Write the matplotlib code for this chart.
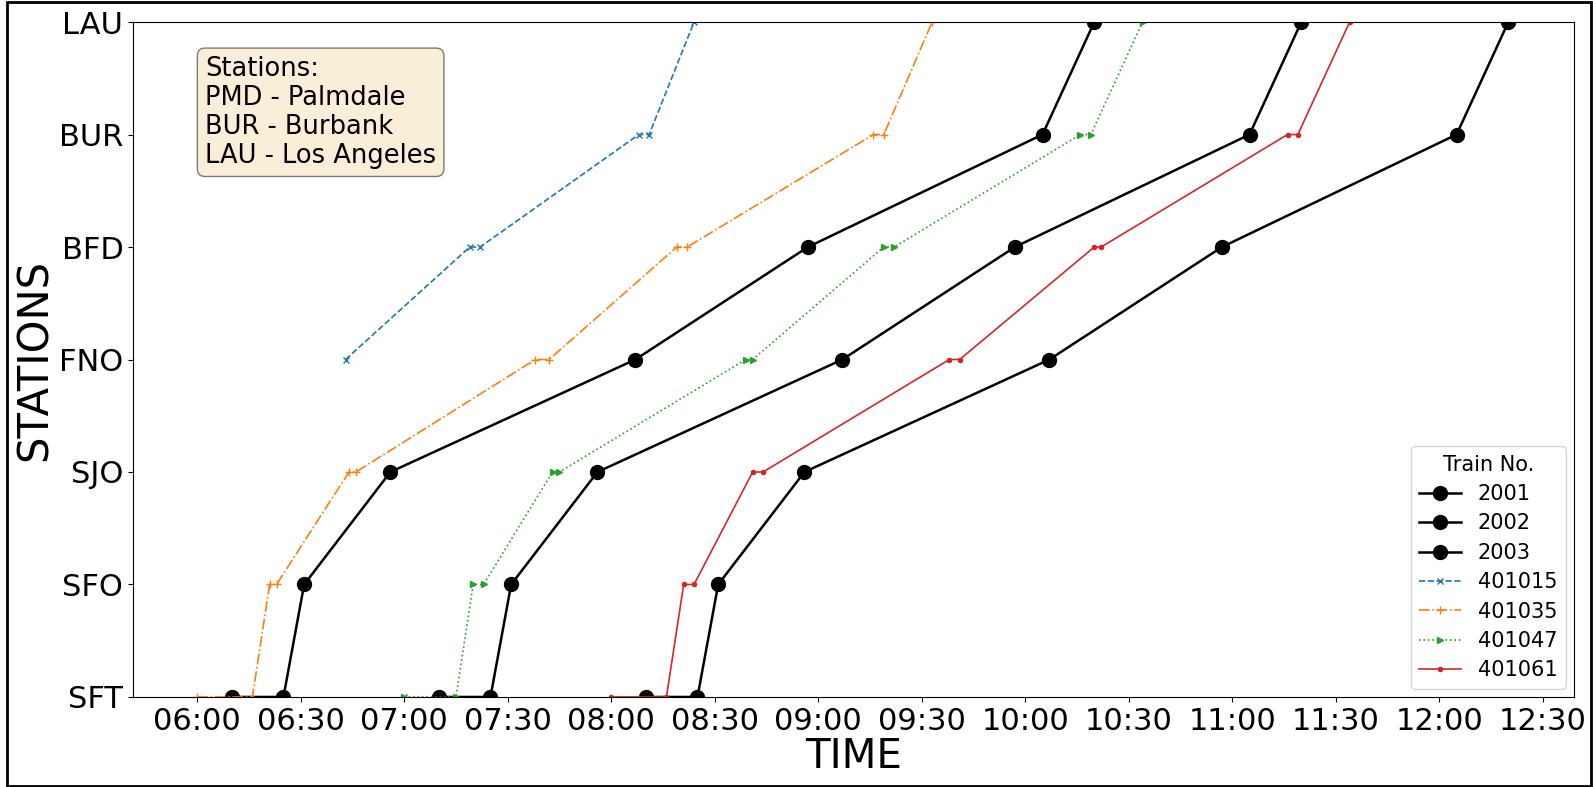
import numpy as np
import matplotlib
matplotlib.use('Agg')
import matplotlib.pyplot as plt
import matplotlib.ticker as ticker
from matplotlib.patches import Rectangle

# ----------------------------------------------------------------------
# Data: stop sequence + times (HH:MM) per train, None = no data
# ----------------------------------------------------------------------
stations = ['SFT', 'SFO', 'SJO', 'FNO', 'BFD', 'BUR', 'LAU']

stops_2001 = ['SFT', 'SFT', 'SFO', 'SJO', 'FNO', 'BFD', 'BUR', 'LAU']
times_2001 = ['06:10', '06:25', '06:31', '06:56', '08:07', '08:57', '10:05', '10:20']

stops_2002 = ['SFT', 'SFT', 'SFO', 'SJO', 'FNO', 'BFD', 'BUR', 'LAU']
times_2002 = ['07:10', '07:25', '07:31', '07:56', '09:07', '09:57', '11:05', '11:20']

stops_2003 = ['SFT', 'SFT', 'SFO', 'SJO', 'FNO', 'BFD', 'BUR', 'LAU']
times_2003 = ['08:10', '08:25', '08:31', '08:56', '10:07', '10:57', '12:05', '12:20']

stops_401015 = ['SFT', None, 'FNO', 'BFD', 'BFD', 'BUR', 'BUR', 'LAU']
times_401015 = ['07:00', None, '06:43', '07:19', '07:22', '08:08', '08:11', '08:24']

stops_401035 = ['SFT', 'SFT', 'SFO', 'SFO', 'SJO', 'SJO', 'FNO', 'FNO',
                'BFD', 'BFD', 'BUR', 'BUR', 'LAU']
times_401035 = ['06:00', '06:16', '06:21', '06:23', '06:44', '06:46', '07:38', '07:42',
                '08:19', '08:22', '09:16', '09:19', '09:33']

stops_401047 = ['SFT', 'SFT', 'SFO', 'SFO', 'SJO', 'SJO', 'FNO', 'FNO',
                'BFD', 'BFD', 'BUR', 'BUR', 'LAU']
times_401047 = ['07:00', '07:15', '07:20', '07:23', '07:43', '07:45', '08:39', '08:41',
                '09:19', '09:22', '10:16', '10:19', '10:34']

stops_401061 = ['SFT', 'SFT', 'SFO', 'SFO', 'SJO', 'SJO', 'FNO', 'FNO',
                'BFD', 'BFD', 'BUR', 'BUR', 'LAU']
times_401061 = ['08:00', '08:16', '08:21', '08:24', '08:41', '08:44', '09:38', '09:41',
                '10:20', '10:22', '11:16', '11:19', '11:34']


def to_min(t):
    if t is None:
        return np.nan
    h, m = t.split(':')
    return int(h) * 60 + int(m)


def to_y(s):
    return np.nan if s is None else stations.index(s)


trains = [
    ('2001', stops_2001, times_2001, dict(color='black', marker='o', ls='-', lw=1.8, ms=10)),
    ('2002', stops_2002, times_2002, dict(color='black', marker='o', ls='-', lw=1.8, ms=10)),
    ('2003', stops_2003, times_2003, dict(color='black', marker='o', ls='-', lw=1.8, ms=10)),
    ('401015', stops_401015, times_401015, dict(color='C0', marker='x', ls='--', lw=1.2, ms=5)),
    ('401035', stops_401035, times_401035, dict(color='C1', marker='+', ls='-.', lw=1.2, ms=6)),
    ('401047', stops_401047, times_401047, dict(color='C2', marker='>', ls=':', lw=1.2, ms=5)),
    ('401061', stops_401061, times_401061, dict(color='C3', marker='.', ls='-', lw=1.2, ms=6)),
]

# ----------------------------------------------------------------------
# Figure
# ----------------------------------------------------------------------
fig = plt.figure(figsize=(15.93, 7.87), dpi=100)
ax = fig.add_axes([0.0835, 0.1144, 0.9045, 0.8576])

for name, st, tm, style in trains:
    x = [to_min(t) for t in tm]
    y = [to_y(s) for s in st]
    ax.plot(x, y, label=name, **style)

ax.set_ylim(0, 6)
ax.set_xlim(341.4, 759)
ax.set_yticks(range(len(stations)))
ax.set_yticklabels(stations)
ax.xaxis.set_major_locator(ticker.MultipleLocator(30))
ax.xaxis.set_major_formatter(
    ticker.FuncFormatter(lambda v, p: f'{int(v) // 60:02d}:{int(v) % 60:02d}'))
ax.tick_params(labelsize=22)
ax.set_xlabel('TIME', fontsize=29, labelpad=1)
ax.set_ylabel('STATIONS', fontsize=30, labelpad=2)

ax.text(0.05, 0.95, 'Stations:\nPMD - Palmdale\nBUR - Burbank\nLAU - Los Angeles',
        transform=ax.transAxes, fontsize=18.5, va='top', linespacing=1.15,
        bbox=dict(boxstyle='round', facecolor='wheat', alpha=0.5))

ax.legend(title='Train No.', loc='lower right', fontsize=15, title_fontsize=15,
          labelspacing=0.45, borderaxespad=0.4)

# thick frame around the whole figure
fig.patches.append(Rectangle((6.5 / 1593, 1.5 / 787), 1584 / 1593, 783.5 / 787,
                             transform=fig.transFigure, fill=False,
                             edgecolor='black', linewidth=2))

plt.savefig('out.png', dpi=100)
